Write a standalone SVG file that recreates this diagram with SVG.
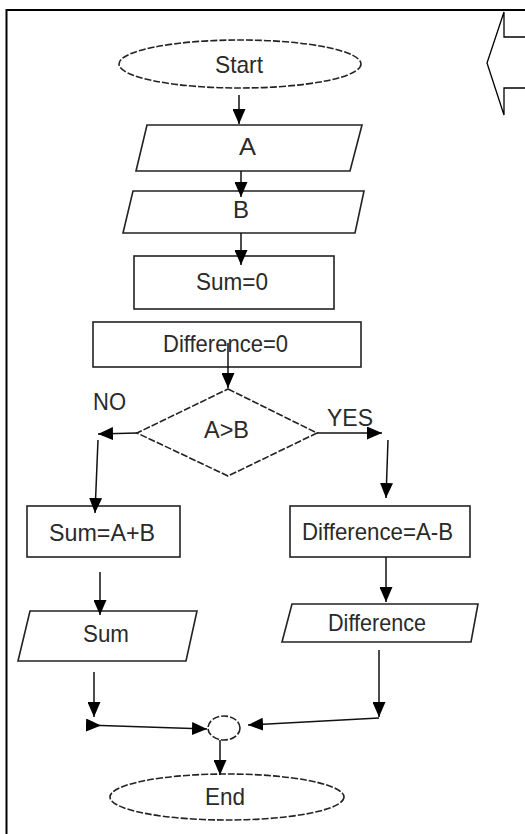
<svg xmlns="http://www.w3.org/2000/svg" width="525" height="834" viewBox="0 0 525 834">
<style>
.bg{fill:#fff}
.shape{fill:#fff;stroke:#222;stroke-width:1.6}
.dash{stroke-dasharray:7 2}
.lbl{font-family:"Liberation Sans",Arial,sans-serif;font-size:24px;fill:#2a2a2a}
.conn{fill:none;stroke:#111;stroke-width:1.5}
.frame{fill:none;stroke:#000;stroke-width:2}
</style>
<defs>
<marker id="arrow" viewBox="0 0 15 13" refX="15" refY="6.5" markerWidth="15" markerHeight="13" markerUnits="userSpaceOnUse" orient="auto">
<path d="M0,0 L15,6.5 L0,13 z" fill="#000"/>
</marker>
<marker id="arrowBase" viewBox="0 0 15 13" refX="0" refY="6.5" markerWidth="15" markerHeight="13" markerUnits="userSpaceOnUse" orient="auto">
<path d="M0,0 L15,6.5 L0,13 z" fill="#000"/>
</marker>
</defs>
<rect class="bg" x="0" y="0" width="525" height="834"/>
<g id="frame">
<path class="frame" d="M6.5,834 V10 H525"/>
<path fill="none" stroke="#000" stroke-width="1.3" d="M525,37 H504 V12 L487,63 L504,115 V88 H525"/>
</g>
<g id="start">
<ellipse class="shape dash" cx="240" cy="64" rx="121" ry="24"/>
<text class="lbl" x="215" y="73" textLength="48" lengthAdjust="spacingAndGlyphs">Start</text>
</g>
<g id="inputA">
<polygon class="shape" points="147,125 362,125 350,171 136,171"/>
<text class="lbl" x="239" y="155" textLength="17" lengthAdjust="spacingAndGlyphs">A</text>
</g>
<g id="inputB">
<polygon class="shape" points="133,191 364,191 355,233 123,233"/>
<text class="lbl" x="233" y="218" textLength="16" lengthAdjust="spacingAndGlyphs">B</text>
</g>
<g id="sum0">
<rect class="shape" x="134" y="256" width="200" height="53"/>
<text class="lbl" x="196" y="290" textLength="72" lengthAdjust="spacingAndGlyphs">Sum=0</text>
</g>
<g id="diff0">
<rect class="shape" x="93" y="322" width="268" height="45"/>
<text class="lbl" x="163" y="352" textLength="125" lengthAdjust="spacingAndGlyphs">Difference=0</text>
</g>
<g id="decision">
<polygon class="shape dash" points="228,389 317,433 228,476 137,433"/>
<text class="lbl" x="204" y="438" textLength="45" lengthAdjust="spacingAndGlyphs">A&gt;B</text>
</g>
<g id="sumAB">
<rect class="shape" x="27" y="506" width="153" height="51"/>
<text class="lbl" x="49" y="541" textLength="106" lengthAdjust="spacingAndGlyphs">Sum=A+B</text>
</g>
<g id="diffAB">
<rect class="shape" x="290" y="506" width="180" height="51"/>
<text class="lbl" x="302" y="540" textLength="151" lengthAdjust="spacingAndGlyphs">Difference=A-B</text>
</g>
<g id="outSum">
<polygon class="shape" points="30,611 197,611 186,661 18,661"/>
<text class="lbl" x="83" y="642" textLength="46" lengthAdjust="spacingAndGlyphs">Sum</text>
</g>
<g id="outDiff">
<polygon class="shape" points="292,604 478,604 471,642 282,642"/>
<text class="lbl" x="328" y="631" textLength="98" lengthAdjust="spacingAndGlyphs">Difference</text>
</g>
<g id="merge">
<ellipse class="shape dash" cx="224" cy="728" rx="16" ry="12"/>
</g>
<g id="end">
<ellipse class="shape dash" cx="227" cy="797" rx="117" ry="23"/>
<text class="lbl" x="205" y="805" textLength="40" lengthAdjust="spacingAndGlyphs">End</text>
</g>
<g id="connectors">
<line class="conn" x1="239" y1="95" x2="239" y2="124" marker-end="url(#arrow)"/>
<line class="conn" x1="241" y1="171" x2="241" y2="197" marker-end="url(#arrow)"/>
<line class="conn" x1="241" y1="233" x2="241" y2="265" marker-end="url(#arrow)"/>
<line class="conn" x1="228" y1="343" x2="228" y2="388" marker-end="url(#arrow)"/>
<line class="conn" x1="137" y1="433" x2="98" y2="434" marker-end="url(#arrow)"/>
<line class="conn" x1="98" y1="440" x2="95" y2="513" marker-end="url(#arrow)"/>
<line class="conn" x1="317" y1="433" x2="382" y2="433" marker-end="url(#arrow)"/>
<line class="conn" x1="388" y1="440" x2="386" y2="498" marker-end="url(#arrow)"/>
<line class="conn" x1="100" y1="572" x2="100" y2="615" marker-end="url(#arrow)"/>
<line class="conn" x1="386" y1="557" x2="386" y2="602" marker-end="url(#arrow)"/>
<line class="conn" x1="94" y1="672" x2="94" y2="717" marker-end="url(#arrow)"/>
<line class="conn" x1="86" y1="725" x2="207" y2="729" marker-start="url(#arrowBase)" marker-end="url(#arrow)"/>
<line class="conn" x1="379" y1="650" x2="379" y2="717" marker-end="url(#arrow)"/>
<line class="conn" x1="379" y1="718" x2="248" y2="725" marker-end="url(#arrow)"/>
<line class="conn" x1="220" y1="740" x2="220" y2="775" marker-end="url(#arrow)"/>
</g>
<g id="labels">
<text class="lbl" x="93" y="410" textLength="33" lengthAdjust="spacingAndGlyphs">NO</text>
<text class="lbl" x="327" y="426" textLength="46" lengthAdjust="spacingAndGlyphs">YES</text>
</g>
</svg>
